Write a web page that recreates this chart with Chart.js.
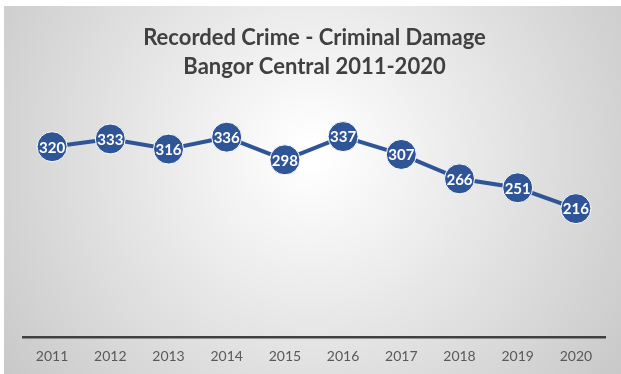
<!DOCTYPE html>
<html>
<head>
<meta charset="utf-8">
<script src="https://cdn.jsdelivr.net/npm/chart.js@4"></script>
<style>
  html, body { margin: 0; padding: 0; background: #fff; }
  #wrap { position: absolute; left: 4px; top: 6px; width: 617px; height: 368px; }
</style>
</head>
<body>
<div id="wrap"><canvas id="crimeChart"></canvas></div>
<script>
  const years = ["2011", "2012", "2013", "2014", "2015", "2016", "2017", "2018", "2019", "2020"];
  const damage = [320, 333, 316, 336, 298, 337, 307, 266, 251, 216];
  const titleLines = ["Recorded Crime - Criminal Damage", "Bangor Central 2011-2020"];

  const BLUE = "#2f5597";

  // grey radial background like the office chart
  const bgPlugin = {
    id: "bg",
    beforeDraw(chart) {
      const { ctx, width, height } = chart;
      const g = ctx.createRadialGradient(width * 0.5, height * 0.4, 10, width * 0.5, height * 0.4, width * 0.62);
      g.addColorStop(0, "#ffffff");
      g.addColorStop(1, "#c8c8c8");
      ctx.save();
      ctx.fillStyle = g;
      ctx.fillRect(0, 0, width, height);
      ctx.restore();
    }
  };

  // value labels inside the markers
  const labelPlugin = {
    id: "pointLabels",
    afterDatasetsDraw(chart) {
      const { ctx } = chart;
      const meta = chart.getDatasetMeta(0);
      ctx.save();
      ctx.font = "bold 15px Lato, 'Open Sans', sans-serif";
      ctx.fillStyle = "#ffffff";
      ctx.textAlign = "center";
      ctx.textBaseline = "middle";
      meta.data.forEach((pt, i) => {
        ctx.fillText(String(damage[i]), pt.x, pt.y + 1);
      });
      ctx.restore();
    }
  };

  const ctx = document.getElementById("crimeChart").getContext("2d");
  new Chart(ctx, {
    type: "line",
    data: {
      labels: years,
      datasets: [{
        data: damage,
        borderColor: BLUE,
        borderWidth: 4,
        backgroundColor: BLUE,
        pointRadius: 15,
        pointHoverRadius: 15,
        pointBorderColor: "#ffffff",
        pointBorderWidth: 1,
        tension: 0,
        clip: false
      }]
    },
    options: {
      responsive: true,
      maintainAspectRatio: false,
      animation: false,
      layout: { padding: { left: 19, right: 15, top: 0, bottom: -2 } },
      plugins: {
        legend: { display: false },
        tooltip: { enabled: false },
        title: {
          display: true,
          text: titleLines,
          color: "#404040",
          font: { family: "Lato, 'Open Sans', sans-serif", size: 22, weight: "bold", lineHeight: 1.32 },
          padding: { top: 17, bottom: 18 }
        }
      },
      scales: {
        x: {
          offset: true,
          grid: { display: false, drawTicks: false },
          border: { display: true, color: "#404040", width: 2.5 },
          ticks: { color: "#595959", font: { family: "Lato, 'Open Sans', sans-serif", size: 14 }, padding: 11 }
        },
        y: {
          display: false,
          min: 0,
          max: 400
        }
      }
    },
    plugins: [bgPlugin, labelPlugin]
  });
</script>
</body>
</html>
